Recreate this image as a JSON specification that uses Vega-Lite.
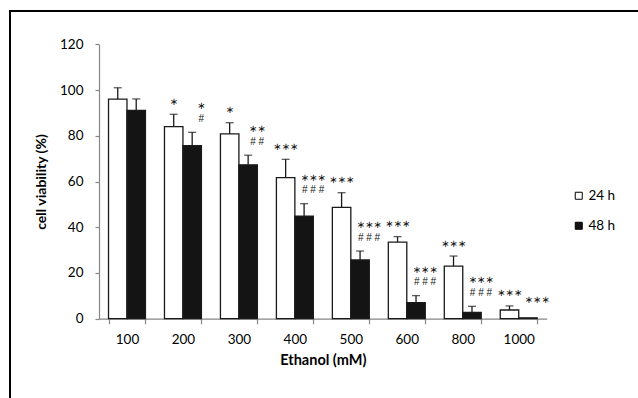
{
  "$schema": "https://vega.github.io/schema/vega-lite/v6.json",
  "width": 628,
  "height": 387,
  "autosize": {"type": "none"},
  "padding": {"left": 10, "top": 11, "right": 0, "bottom": 0},
  "background": "white",
  "config": {
    "font": "Lato",
    "view": {"stroke": "black", "strokeWidth": 2, "strokeDash": [628, 1015, 387]},
    "axis": {"grid": false, "domainColor": "#868686", "tickColor": "#868686", "labelColor": "black", "titleColor": "black", "labelFont": "Lato", "titleFont": "Lato"}
  },
  "data": {
    "values": [
      {"conc": "100", "time": "24 h", "value": 96.0, "upper": 101.0, "label": ""},
      {"conc": "100", "time": "48 h", "value": 91.1, "upper": 96.1, "label": ""},
      {"conc": "200", "time": "24 h", "value": 84.0, "upper": 89.4, "label": "∗"},
      {"conc": "200", "time": "48 h", "value": 75.7, "upper": 81.5, "label": "∗\n#"},
      {"conc": "300", "time": "24 h", "value": 80.8, "upper": 85.7, "label": "∗"},
      {"conc": "300", "time": "48 h", "value": 67.3, "upper": 71.5, "label": "∗∗\n# #"},
      {"conc": "400", "time": "24 h", "value": 61.7, "upper": 69.7, "label": "∗∗∗"},
      {"conc": "400", "time": "48 h", "value": 44.8, "upper": 50.3, "label": "∗∗∗\n# # #"},
      {"conc": "500", "time": "24 h", "value": 48.7, "upper": 55.1, "label": "∗∗∗"},
      {"conc": "500", "time": "48 h", "value": 25.7, "upper": 29.6, "label": "∗∗∗\n# # #"},
      {"conc": "600", "time": "24 h", "value": 33.5, "upper": 35.9, "label": "∗∗∗"},
      {"conc": "600", "time": "48 h", "value": 7.0, "upper": 10.1, "label": "∗∗∗\n# # #"},
      {"conc": "800", "time": "24 h", "value": 23.0, "upper": 27.4, "label": "∗∗∗"},
      {"conc": "800", "time": "48 h", "value": 2.8, "upper": 5.4, "label": "∗∗∗\n# # #"},
      {"conc": "1000", "time": "24 h", "value": 3.8, "upper": 5.6, "label": "∗∗∗"},
      {"conc": "1000", "time": "48 h", "value": 0.4, "upper": 0.4, "label": "∗∗∗"}
    ]
  },
  "encoding": {
    "x": {
      "field": "conc", "type": "nominal", "sort": null,
      "scale": {"range": [89, 536.7], "paddingInner": 0.34, "paddingOuter": 0.17},
      "axis": {"title": "Ethanol (mM)", "labelAngle": 0, "offset": -79.3, "tickSize": 5, "tickBand": "extent", "labelPadding": 9, "labelFontSize": 13.5, "titleFontSize": 14.5, "titleFontWeight": "bold", "titlePadding": 7, "domainWidth": 1.2, "tickWidth": 1.2}
    },
    "xOffset": {"field": "time", "type": "nominal", "scale": {"paddingInner": 0, "paddingOuter": 0}},
    "y": {
      "field": "value", "type": "quantitative",
      "scale": {"domain": [0, 120], "range": [307.7, 33.3], "nice": false, "zero": true},
      "axis": {"title": "cell viability (%)", "values": [0, 20, 40, 60, 80, 100, 120], "offset": -89, "tickSize": 4, "labelPadding": 12, "labelFontSize": 13.5, "titleFontSize": 14, "titleFontWeight": "bold", "titlePadding": 11, "domainWidth": 1.2, "tickWidth": 1.2}
    }
  },
  "layer": [
    {
      "mark": {"type": "bar", "stroke": "#1a1a1a", "strokeWidth": 1.3},
      "encoding": {
        "fill": {
          "field": "time", "type": "nominal",
          "scale": {"domain": ["24 h", "48 h"], "range": ["white", "#141414"]},
          "legend": {"title": null, "orient": "none", "legendX": 562, "legendY": 178, "symbolType": "square", "symbolSize": 49, "symbolStrokeColor": "black", "symbolStrokeWidth": 1, "labelFontSize": 13.5, "labelColor": "black", "labelOffset": 3, "rowPadding": 15, "padding": 0}
        }
      }
    },
    {
      "mark": {"type": "rule", "color": "#1a1a1a", "strokeWidth": 1.3},
      "encoding": {"y2": {"field": "upper"}}
    },
    {
      "transform": [{"filter": "datum.upper > datum.value"}],
      "mark": {"type": "tick", "color": "#1a1a1a", "thickness": 1.3, "size": 8, "orient": "horizontal"},
      "encoding": {"y": {"field": "upper", "type": "quantitative"}}
    },
    {
      "transform": [{"filter": "datum.time == '24 h' && datum.label != ''"}],
      "mark": {"type": "text", "font": "Liberation Sans, DejaVu Sans", "fontSize": 10, "baseline": "alphabetic", "dy": -9.5, "color": "#111"},
      "encoding": {"y": {"field": "upper", "type": "quantitative"}, "text": {"field": "label"}}
    },
    {
      "transform": [{"filter": "datum.time == '48 h' && indexof(datum.label, '#') >= 0"}],
      "mark": {"type": "text", "font": "Liberation Sans, DejaVu Sans", "fontSize": 10, "baseline": "alphabetic", "lineBreak": "\n", "lineHeight": 12.5, "dy": -23, "dx": 9, "color": "#111"},
      "encoding": {"y": {"field": "upper", "type": "quantitative"}, "text": {"field": "label"}}
    },
    {
      "transform": [{"filter": "datum.time == '48 h' && datum.label != '' && indexof(datum.label, '#') < 0"}],
      "mark": {"type": "text", "font": "Liberation Sans, DejaVu Sans", "fontSize": 10, "baseline": "alphabetic", "dy": -14.5, "dx": 9, "color": "#111"},
      "encoding": {"y": {"field": "upper", "type": "quantitative"}, "text": {"field": "label"}}
    }
  ]
}
